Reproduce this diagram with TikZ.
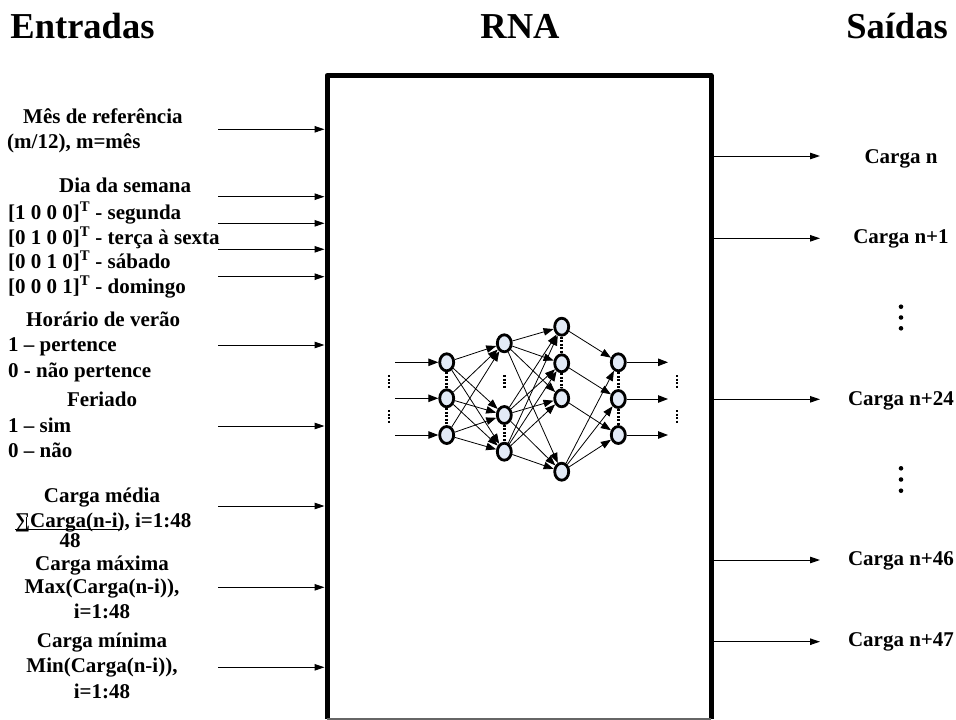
\documentclass[tikz,border=0pt]{standalone}
\usepackage{fontspec}
\setmainfont{Liberation Serif}
\usetikzlibrary{arrows.meta,shapes.geometric}
\definecolor{neuronfill}{RGB}{226,234,246}

\begin{document}
\begin{tikzpicture}[x=1pt,y=-1pt,
  lbl/.style={font=\fontsize{21}{25}\selectfont\bfseries, inner sep=0pt, anchor=base west},
  lblc/.style={lbl, anchor=base},
  head/.style={font=\fontsize{36.5}{42}\selectfont\bfseries, inner sep=0pt, anchor=base},
  feed/.style={line width=1pt, -{Triangle[length=10pt,width=6.5pt]}},
  neuron/.style={ellipse, draw, line width=2.8pt, fill=neuronfill,
    minimum width=14pt, minimum height=17pt, inner sep=0pt},
  syn/.style={line width=0.8pt, -{Triangle[length=10pt,width=7.5pt]}},
  ndots/.style={line width=2.6pt, dash pattern=on 2pt off 1.5pt},
]
\useasboundingbox (0,0) rectangle (956,720);

% titles
\node[head] (tin)  at (82.5,38.5) {Entradas};
\node[head] (trna) at (520,38.5) {RNA};
\node[head] (tout) at (897,38.5) {Saídas};

% the network block
\node[minimum width=384pt, minimum height=643.5pt, inner sep=0pt, outer sep=0pt]
  (rna) at (519,397.25) {};
\draw[line width=5pt, line join=round]
  (rna.south west) -- (rna.north west) -- (rna.north east) -- (rna.south east);
\draw[line width=1.2pt, black!60] (rna.south west) -- (rna.south east);

% input descriptions
\node[lbl] at (23,123) {Mês de referência};
\node[lbl] at (7,148) {(m/12), m=mês};
\node[lbl] at (59,192) {Dia da semana};
\node[lbl] at (8,219) {[1 0 0 0]\textsuperscript{T} - segunda};
\node[lbl] at (8,244) {[0 1 0 0]\textsuperscript{T} - terça à sexta};
\node[lbl] at (8,268) {[0 0 1 0]\textsuperscript{T} - sábado};
\node[lbl] at (8,293) {[0 0 0 1]\textsuperscript{T} - domingo};
\node[lbl] at (26,326) {Horário de verão};
\node[lbl] at (8,351) {1 – pertence};
\node[lbl] at (8,377) {0 - não pertence};
\node[lblc] at (102,406) {Feriado};
\node[lbl] at (8,432) {1 – sim};
\node[lbl] at (8,457) {0 – não};
\node[lblc] at (102,502) {Carga média};
\node[lbl] (sumtxt) at (15,527) {∑Carga(n-i), i=1:48};
\node[lblc] at (70,547) {48};
\node[lblc] at (102,570) {Carga máxima};
\node[lblc] at (102,593) {Max(Carga(n-i)),};
\node[lblc] at (102,618) {i=1:48};
\node[lblc] at (102,647) {Carga mínima};
\node[lblc] at (102,672) {Min(Carga(n-i)),};
\node[lblc] at (102,698) {i=1:48};
% fraction bar under the sum
\draw[line width=0.8pt] (15,529.5) -- (121,529.5);
\draw[line width=0.6pt] (26,516.5) -- (26,530) (121,516.5) -- (121,530);

% input arrows
\foreach \k/\yy in {1/129.3,2/196.7,3/223.3,4/249.3,5/276.7,6/345,7/426,8/506,9/587.3,10/667.3}{
  \coordinate (in\k) at (218,\yy);
  \draw[feed, shorten >=2.5pt] (in\k) -- (in\k -| rna.west);
}

% outputs
\foreach \k/\yy/\bl/\txt in {1/156/163.3/Carga n,2/238.3/243.3/Carga n+1,3/399.3/405/Carga n+24,
                             4/560/565/Carga n+46,5/641.7/646.7/Carga n+47}{
  \node[lblc] (out\k) at (901,\bl) {\txt};
  \coordinate (oe\k) at (820,\yy);
  \draw[feed] (oe\k -| rna.east) -- (oe\k);
}
\foreach \yy in {306.7,317.5,328.3,468.3,479.5,490.7}
  \fill (901,\yy) circle (2.3pt);

% neurons
\node[neuron] (a1) at (446.7,362.3) {};
\node[neuron] (a2) at (446.7,398.3) {};
\node[neuron] (a3) at (446.7,435) {};
\node[neuron] (b1) at (504.3,343.3) {};
\node[neuron] (b2) at (504.3,415) {};
\node[neuron] (b3) at (504.3,451.7) {};
\node[neuron] (c1) at (561.7,326.7) {};
\node[neuron] (c2) at (561.7,363.3) {};
\node[neuron] (c3) at (561.7,398.3) {};
\node[neuron] (c4) at (561.7,471.7) {};
\node[neuron] (d1) at (618.3,362.3) {};
\node[neuron] (d2) at (618.3,399) {};
\node[neuron] (d3) at (618.3,435) {};

% synapses
\foreach \s in {a1,a2,a3}
  \foreach \t in {b1,b2,b3}
    \draw[syn] (\s) -- (\t);
\foreach \s in {b1,b2,b3}
  \foreach \t in {c1,c2,c3,c4}
    \draw[syn] (\s) -- (\t);
\draw[syn] (c1) -- (d1);
\draw[syn] (c2) -- (d2);
\draw[syn] (c3) -- (d3);
\foreach \t in {d1,d2,d3}
  \draw[syn] (c4) -- (\t);

% network inputs and outputs
\foreach \k/\n in {1/a1,2/a2,3/a3}{
  \coordinate (x\k) at (395,0 |- \n);
  \draw[syn, line width=1pt] (x\k) -- (\n);
}
\foreach \k/\n in {1/d1,2/d2,3/d3}{
  \coordinate (y\k) at (668,0 |- \n);
  \draw[syn, line width=1pt] (\n) -- (y\k);
}

% ellipsis dots inside the layers
\draw[ndots] (a1.south) -- (a2.north);
\draw[ndots] (a2.south) -- (a3.north);
\draw[ndots] (b2.south) -- (b3.north);
\draw[ndots] (c1.south) -- (c2.north);
\draw[ndots] (c2.south) -- (c3.north);
\draw[ndots] (d1.south) -- (d2.north);
\draw[ndots] (d2.south) -- (d3.north);
\draw[ndots] (504.3,375) -- (504.3,388);
\draw[ndots] (389,375) -- (389,388) (389,410) -- (389,423);
\draw[ndots] (677,375) -- (677,388) (677,410) -- (677,423);
\end{tikzpicture}
\end{document}
